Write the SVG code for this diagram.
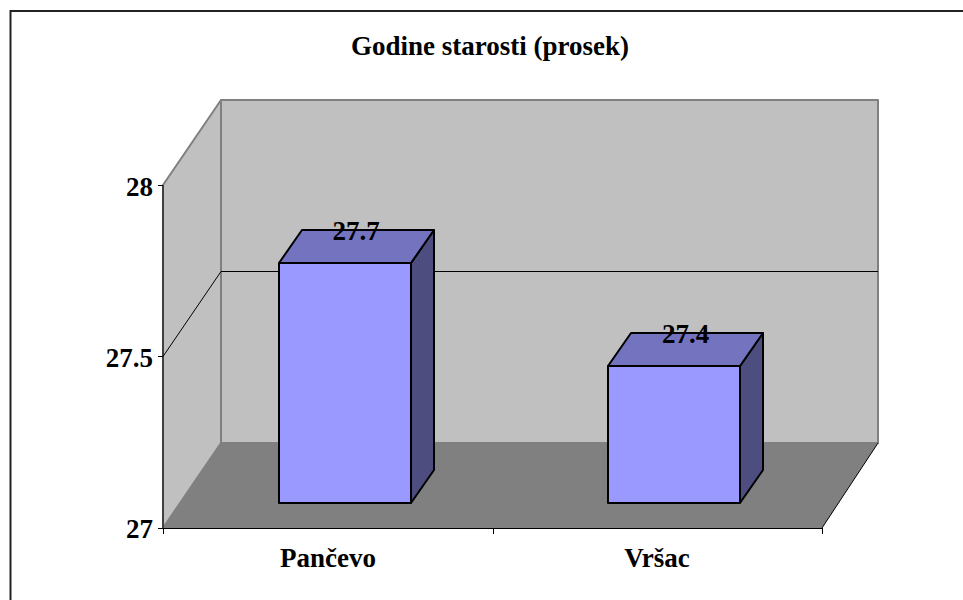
<svg xmlns="http://www.w3.org/2000/svg" width="963" height="600" viewBox="0 0 963 600">
<style>
.t{font-family:"Liberation Serif","Times New Roman",serif;font-weight:bold;font-size:27px;fill:#000}
.wall{fill:#C0C0C0;stroke:#808080;stroke-width:2;stroke-linejoin:round}
.ax{stroke:#000;stroke-width:1;fill:none}
.front{fill:#9999FF;stroke:#000;stroke-width:2;stroke-linejoin:round}
.top{fill:#7373BF;stroke:#000;stroke-width:2;stroke-linejoin:round}
.side{fill:#4D4D80;stroke:#000;stroke-width:2;stroke-linejoin:round}
</style>
<rect x="0" y="0" width="963" height="600" fill="#fff"/>
<rect x="10.5" y="11" width="1000" height="1000" fill="none" stroke="#222" stroke-width="2"/>
<text class="t" x="490" y="55" text-anchor="middle">Godine starosti (prosek)</text>
<g id="plot">
<polygon class="wall" points="221,100 878,100 878,443 221,443"/>
<polygon class="wall" points="163,185 221,100 221,443 163,528"/>
<polygon points="163,528 221,443 878,443 822,528" fill="#808080"/>
<line x1="822" y1="528" x2="878" y2="443" stroke="#000" stroke-width="1"/>
<polyline class="ax" points="163,356.5 221,271.5 878,271.5"/>
</g>
<g id="axes">
<line class="ax" x1="163" y1="185" x2="163" y2="528"/>
<line class="ax" x1="163" y1="528.5" x2="822" y2="528.5"/>
<line class="ax" x1="158" y1="185.5" x2="163" y2="185.5"/>
<line class="ax" x1="158" y1="356.5" x2="163" y2="356.5"/>
<line class="ax" x1="158" y1="528.5" x2="163" y2="528.5"/>
<line class="ax" x1="163.5" y1="528" x2="163.5" y2="534"/>
<line class="ax" x1="493.5" y1="528" x2="493.5" y2="534" stroke="#808080"/>
<line class="ax" x1="822.5" y1="528" x2="822.5" y2="534" stroke="#808080"/>
<text class="t" x="153" y="196" text-anchor="end">28</text>
<text class="t" x="153" y="367" text-anchor="end">27.5</text>
<text class="t" x="153" y="538" text-anchor="end">27</text>
<text class="t" x="328" y="567" text-anchor="middle">Pančevo</text>
<text class="t" x="657" y="567" text-anchor="middle">Vršac</text>
</g>
<g id="bar-pancevo">
<polygon class="side" points="411,263 434,230 434,470 411,503"/>
<polygon class="top" points="279,263 302,230 434,230 411,263"/>
<rect class="front" x="279" y="263" width="132" height="240"/>
<text class="t" x="356" y="240" text-anchor="middle">27.7</text>
</g>
<g id="bar-vrsac">
<polygon class="side" points="740,366 763,333 763,470 740,503"/>
<polygon class="top" points="608,366 631,333 763,333 740,366"/>
<rect class="front" x="608" y="366" width="132" height="137"/>
<text class="t" x="685.5" y="343" text-anchor="middle">27.4</text>
</g>
</svg>
